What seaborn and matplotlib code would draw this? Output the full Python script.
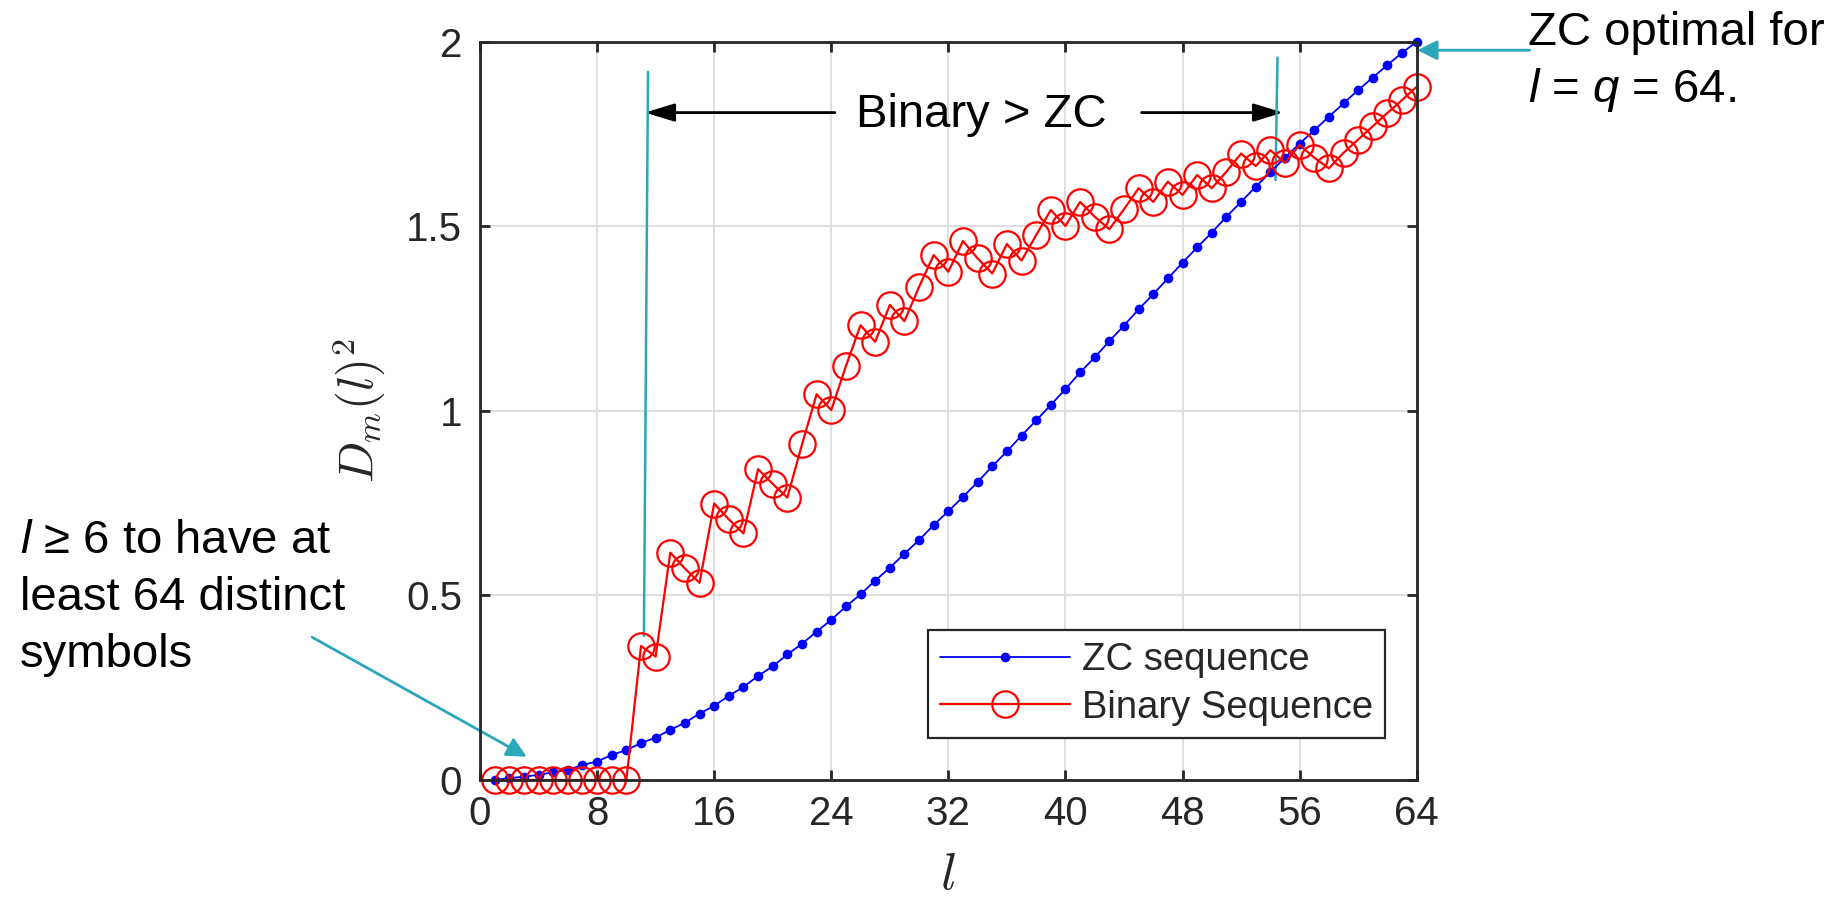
import numpy as np
import pandas as pd
import matplotlib
matplotlib.use("Agg")
import matplotlib.pyplot as plt
import seaborn as sns
from matplotlib.patches import ArrowStyle

# ---------------- data ----------------
l_values = list(range(1, 65))

zc_values = [0.000, 0.005, 0.009, 0.014, 0.021, 0.027, 0.041, 0.050, 0.068, 0.081,
             0.100, 0.115, 0.136, 0.155, 0.180, 0.201, 0.228, 0.252, 0.282, 0.308,
             0.340, 0.369, 0.402, 0.434, 0.470, 0.503, 0.540, 0.575, 0.613, 0.650,
             0.691, 0.728, 0.767, 0.807, 0.850, 0.890, 0.933, 0.974, 1.016, 1.059,
             1.104, 1.145, 1.189, 1.231, 1.275, 1.316, 1.359, 1.401, 1.443, 1.483,
             1.526, 1.566, 1.607, 1.646, 1.686, 1.724, 1.760, 1.797, 1.833, 1.869,
             1.903, 1.937, 1.970, 2.000]

binary_values = [0, 0, 0, 0, 0, 0, 0, 0, 0, 0,
                 0.363, 0.334, 0.616, 0.573, 0.534, 0.749, 0.706, 0.668, 0.842, 0.802,
                 0.765, 0.909, 1.045, 1.002, 1.121, 1.232, 1.187, 1.287, 1.243, 1.336,
                 1.422, 1.377, 1.460, 1.413, 1.372, 1.452, 1.407, 1.476, 1.544, 1.501,
                 1.566, 1.526, 1.492, 1.546, 1.603, 1.566, 1.621, 1.585, 1.639, 1.603,
                 1.648, 1.697, 1.663, 1.706, 1.672, 1.720, 1.686, 1.657, 1.699, 1.735,
                 1.771, 1.807, 1.842, 1.878]

series_labels = ["ZC sequence", "Binary Sequence"]
x_ticks = [0, 8, 16, 24, 32, 40, 48, 56, 64]
y_ticks = [0, 0.5, 1, 1.5, 2]
y_tick_labels = ["0", "0.5", "1", "1.5", "2"]

df = pd.DataFrame({"l": l_values, "zc": zc_values, "binary": binary_values})

# ---------------- style ----------------
sns.set_style("white")
plt.rcParams["font.family"] = ["Liberation Sans", "DejaVu Sans"]
plt.rcParams["mathtext.fontset"] = "custom"
plt.rcParams["mathtext.it"] = "Liberation Sans:italic"
plt.rcParams["mathtext.rm"] = "Liberation Sans"

W, H = 1845, 897
fig = plt.figure(figsize=(W / 100, H / 100), dpi=100)
ax_left, ax_right, ax_top, ax_bottom = 480, 1416.7, 41.7, 780
ax = fig.add_axes([ax_left / W, 1 - ax_bottom / H,
                   (ax_right - ax_left) / W, (ax_bottom - ax_top) / H])

cyan = "#2AA7BA"
grey_txt = "#262626"

sns.lineplot(data=df, x="l", y="zc", ax=ax, color="blue", linewidth=1.3,
             marker="o", markersize=7, markeredgewidth=0, label=series_labels[0],
             clip_on=False, zorder=4)
sns.lineplot(data=df, x="l", y="binary", ax=ax, color="red", linewidth=1.6,
             marker="o", markersize=19, markerfacecolor="none", markeredgecolor="red",
             markeredgewidth=1.6, label=series_labels[1], clip_on=False, zorder=5)

ax.set_xlim(0, 64)
ax.set_ylim(0, 2)
ax.set_xticks(x_ticks)
ax.set_xticklabels([str(t) for t in x_ticks])
ax.set_yticks(y_ticks)
ax.set_yticklabels(y_tick_labels)
ax.grid(True, color="#DCDCDC", linewidth=1.3)
ax.set_axisbelow(True)
for s in ax.spines.values():
    s.set_color(grey_txt)
    s.set_linewidth(2.0)
    s.set_visible(True)
    s.set_zorder(6)
ax.tick_params(direction="in", length=7, width=2.0, color=grey_txt,
               labelcolor=grey_txt, labelsize=29, top=True, right=True,
               bottom=True, left=True)
ax.tick_params(axis="x", pad=11)
ax.tick_params(axis="y", pad=13)

ax.set_xlabel(r"$l$", fontsize=38, math_fontfamily="cm", labelpad=12)
ax.set_ylabel(r"$D_m(l)^2$", fontsize=35, math_fontfamily="cm", labelpad=14)

leg = ax.legend(loc="upper left", bbox_to_anchor=(928 / W, 1 - 630 / H),
                bbox_transform=fig.transFigure, borderaxespad=0, fontsize=27.5,
                frameon=True, fancybox=False, edgecolor=grey_txt, framealpha=1,
                handlelength=3.4, handletextpad=0.3, labelspacing=0.3,
                borderpad=0.32)
leg.get_frame().set_linewidth(1.6)
leg.set_zorder(7)

# ---------------- annotations ----------------
black_head = ArrowStyle("-|>", head_length=18, head_width=5.5)
cyan_head = ArrowStyle("-|>", head_length=12, head_width=6)

ax.text(34.26, 1.768, "Binary > ZC", fontsize=34, ha="center", va="baseline",
        color="black")
ax.annotate("", xy=(11.27, 1.808), xytext=(24.25, 1.808),
            arrowprops=dict(arrowstyle=black_head, mutation_scale=1, color="black",
                            lw=2.0, shrinkA=0, shrinkB=0))
ax.annotate("", xy=(54.87, 1.808), xytext=(45.2, 1.808),
            arrowprops=dict(arrowstyle=black_head, mutation_scale=1, color="black",
                            lw=2.0, shrinkA=0, shrinkB=0))
ax.plot([11.48, 11.2], [1.918, 0.39], color=cyan, lw=1.8, zorder=3)
ax.plot([54.49, 54.35], [1.957, 1.625], color=cyan, lw=1.8, zorder=3)

ax.annotate("", xy=(64.05, 1.977), xytext=(71.72, 1.977), annotation_clip=False,
            arrowprops=dict(arrowstyle=cyan_head, mutation_scale=1, color=cyan,
                            lw=2.0, shrinkA=0, shrinkB=0))
ax.annotate("", xy=(3.19, 0.063), xytext=(-11.48, 0.387), annotation_clip=False,
            arrowprops=dict(arrowstyle=cyan_head, mutation_scale=1, color=cyan,
                            lw=2.0, shrinkA=0, shrinkB=0))

fig.text(1528 / W, 1 - 45 / H, "ZC optimal for", fontsize=34, ha="left",
         va="baseline", color="black")
fig.text(1528 / W, 1 - 102 / H, r"$l$ = $q$ = 64.", fontsize=34, ha="left",
         va="baseline", color="black")

fig.text(20 / W, 1 - 553 / H, r"$l$ ≥ 6 to have at", fontsize=34, ha="left",
         va="baseline", color="black")
fig.text(20 / W, 1 - 610 / H, "least 64 distinct", fontsize=34, ha="left",
         va="baseline", color="black")
fig.text(20 / W, 1 - 667 / H, "symbols", fontsize=34, ha="left",
         va="baseline", color="black")

fig.savefig("out.png", dpi=100)
